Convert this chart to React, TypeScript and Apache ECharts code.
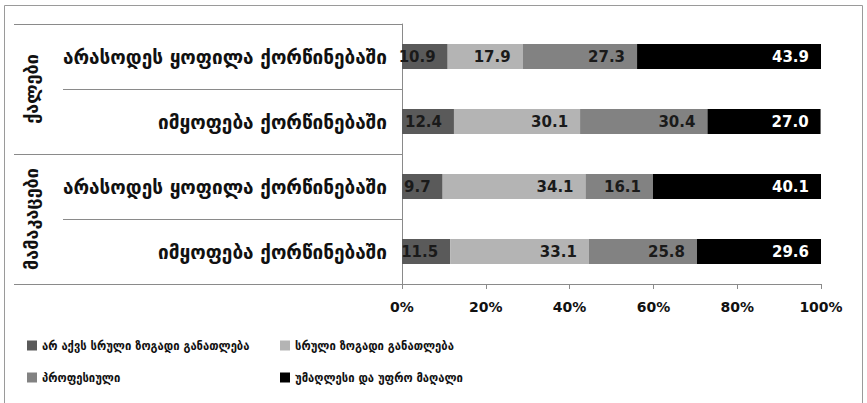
import React, { useEffect, useRef } from "react";
import * as echarts from "echarts";

const groups = ["ქალები", "მამაკაცები"];
const categories = [
  "არასოდეს ყოფილა ქორწინებაში",
  "იმყოფება ქორწინებაში",
  "არასოდეს ყოფილა ქორწინებაში",
  "იმყოფება ქორწინებაში",
];
const seriesNames = [
  "არ აქვს სრული ზოგადი განათლება",
  "სრული ზოგადი განათლება",
  "პროფესიული",
  "უმაღლესი და უფრო მაღალი",
];
const noFullGeneral = [10.9, 12.4, 9.7, 11.5];
const fullGeneral = [17.9, 30.1, 34.1, 33.1];
const vocational = [27.3, 30.4, 16.1, 25.8];
const higher = [43.9, 27.0, 40.1, 29.6];
const xTicks = [0, 20, 40, 60, 80, 100];

const colors = ["#5a5a5a", "#b4b4b4", "#828282", "#000000"];
const labelColors = ["#1a1a1a", "#1a1a1a", "#1a1a1a", "#ffffff"];
const FONT = "DejaVu Sans";
const COND = "'DejaVu Sans Condensed', 'DejaVu Sans'";

export default function App() {
  const ref = useRef<HTMLDivElement>(null);
  useEffect(() => {
    if (!ref.current) return;
    const chart = echarts.init(ref.current, undefined, { renderer: "svg" });
    const values = [noFullGeneral, fullGeneral, vocational, higher];
    const legendText = { fontSize: 12.5, fontWeight: "bold", color: "#111", fontFamily: COND };
    chart.setOption({
      animation: false,
      textStyle: { fontFamily: FONT },
      grid: { left: 402, right: 46, top: 24, bottom: 119, containLabel: false },
      xAxis: {
        type: "value",
        min: xTicks[0],
        max: xTicks[xTicks.length - 1],
        interval: 20,
        splitLine: { show: false },
        axisLine: { show: true, lineStyle: { color: "#8a8a8a" } },
        axisTick: { show: true, length: 5, lineStyle: { color: "#8a8a8a" } },
        axisLabel: {
          formatter: "{value}%",
          color: "#111",
          fontSize: 14,
          fontWeight: "bold",
          fontFamily: FONT,
          margin: 16,
        },
      },
      yAxis: [
        {
          type: "category",
          data: categories,
          inverse: true,
          axisLine: { show: true, lineStyle: { color: "#8a8a8a" } },
          axisTick: { show: true, length: 339, lineStyle: { color: "#8a8a8a" } },
          axisLabel: {
            interval: 0,
            color: "#111",
            fontSize: 19,
            fontWeight: "bold",
            fontFamily: FONT,
            margin: 15,
          },
        },
        {
          type: "category",
          data: groups,
          inverse: true,
          position: "left",
          axisLine: { show: false },
          axisTick: { show: true, interval: 0, length: 388, lineStyle: { color: "#8a8a8a" } },
          axisLabel: {
            interval: 0,
            rotate: 90,
            color: "#111",
            fontSize: 18,
            fontWeight: "bold",
            fontFamily: FONT,
            margin: 362,
          },
        },
      ],
      legend: [
        {
          left: 27,
          top: 339,
          padding: 0,
          orient: "vertical",
          icon: "rect",
          itemWidth: 10,
          itemHeight: 10,
          itemGap: 19,
          textStyle: legendText,
          data: [seriesNames[0], seriesNames[2]],
        },
        {
          left: 280,
          top: 339,
          padding: 0,
          orient: "vertical",
          icon: "rect",
          itemWidth: 10,
          itemHeight: 10,
          itemGap: 19,
          textStyle: legendText,
          data: [seriesNames[1], seriesNames[3]],
        },
      ],
      graphic: [
        {
          type: "rect",
          shape: { x: 4.5, y: 5.5, width: 858, height: 410 },
          style: { fill: "none", stroke: "#9a9a9a", lineWidth: 1 },
          silent: true,
        },
      ],
      series: seriesNames.map((name, i) => ({
        name,
        type: "bar",
        stack: "total",
        yAxisIndex: 0,
        barWidth: 25,
        itemStyle: { color: colors[i] },
        label: {
          show: true,
          position: "insideRight",
          distance: 12,
          formatter: (p: any) => Number(p.value).toFixed(1),
          color: labelColors[i],
          fontSize: 15,
          fontWeight: "bold",
          fontFamily: FONT,
        },
        data: values[i],
      })),
    });
    return () => chart.dispose();
  }, []);
  return (
    <div
      ref={ref}
      style={{ position: "absolute", left: 0, top: 0, width: 867, height: 403, background: "#fff" }}
    />
  );
}
